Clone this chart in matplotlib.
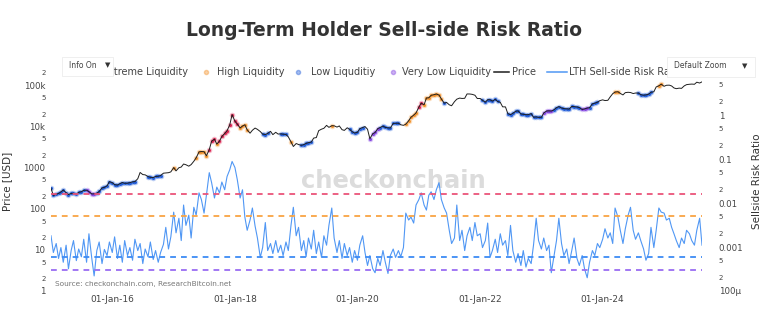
import numpy as np
import pandas as pd
import matplotlib
matplotlib.use("Agg")
import matplotlib.pyplot as plt
import matplotlib.dates as mdates
from matplotlib.ticker import FixedLocator, FixedFormatter, LogLocator, FuncFormatter
from matplotlib.lines import Line2D
from matplotlib.patches import Rectangle

# ---------------------------------------------------------------- data
# semi-monthly samples (1st and 15th), Jan 2015 .. Aug 2025
dates = pd.date_range("2015-01-01", "2025-08-15", freq="SMS")

price_2015 = [315, 210, 225, 235, 255, 285, 245, 220, 235, 237, 225, 250,
              258, 280, 282, 260, 228, 230, 237, 262, 320, 330, 360, 455]
price_2016 = [430, 385, 375, 405, 433, 415, 417, 430, 450, 455, 535, 760,
              675, 665, 605, 578, 573, 607, 615, 640, 730, 740, 750, 785]
price_2017 = [1000, 830, 990, 1030, 1220, 1170, 1080, 1180, 1420, 1730, 2400, 2450,
              2430, 1930, 2730, 4380, 4890, 3700, 4400, 5700, 6740, 7870, 10900, 19300]
price_2018 = [13400, 11400, 9170, 10200, 10950, 8260, 6840, 8060, 9120, 8480, 7500, 6500,
              6350, 6740, 7600, 6310, 7190, 6520, 6590, 6470, 6380, 5570, 4210, 3250]
price_2019 = [3840, 3630, 3470, 3620, 3860, 4030, 4150, 5200, 5360, 7880, 8570, 8990,
              10600, 9480, 10400, 10350, 9630, 10270, 8330, 8000, 9260, 8500, 7420, 6900]
price_2020 = [7200, 8820, 9390, 9920, 8550, 5010, 6640, 7120, 8850, 9380, 10200, 9450,
              9230, 9130, 11800, 11910, 11970, 10960, 10620, 11320, 13740, 16720, 18800, 21300]
price_2021 = [29400, 36800, 33500, 49100, 49600, 56900, 59000, 61300, 57800, 46400, 36700, 38300,
              33500, 31800, 39900, 45900, 48800, 47800, 48200, 61500, 61300, 60100, 57200, 47600]
price_2022 = [47700, 43100, 38700, 44600, 44400, 41100, 45500, 40400, 38500, 29900, 29800, 20400,
              19300, 20800, 23300, 23900, 20100, 19700, 19300, 19250, 20500, 16700, 17000, 16600]
price_2023 = [16600, 21200, 23700, 23900, 23600, 25000, 28500, 30300, 28100, 27000, 26800, 26300,
              30600, 30200, 29700, 28700, 25800, 26600, 27900, 28500, 35400, 36600, 38700, 42200]
price_2024 = [44200, 42500, 43100, 52100, 62400, 68400, 69700, 63400, 58200, 66200, 67500, 66600,
              62900, 64800, 64600, 59000, 57300, 58200, 60800, 67600, 69500, 91000, 97200, 106100]
price_2025 = [94400, 99900, 100600, 96100, 86000, 82600, 85200, 84000, 96500, 103500, 105700, 106800,
              105700, 118700, 113300, 121000]

ratio_2015 = [0.0018, 0.00075, 0.0012, 0.00055, 0.00097, 0.00045, 0.0011, 0.00032, 0.00083, 0.0014,
              0.00049, 0.0009, 0.0006, 0.0015, 0.00045, 0.002, 0.00055, 0.00022, 0.00083, 0.0013,
              0.00042, 0.00088, 0.00064, 0.0013]
ratio_2016 = [0.00075, 0.0017, 0.00055, 0.0011, 0.00045, 0.0014, 0.00064, 0.00097, 0.0005, 0.0015,
              0.00083, 0.0012, 0.00042, 0.0009, 0.0006, 0.0013, 0.00052, 0.00083, 0.00045, 0.00075,
              0.00115, 0.0028, 0.0009, 0.0017]
ratio_2017 = [0.0062, 0.0021, 0.0045, 0.0014, 0.009, 0.0031, 0.0053, 0.0016, 0.008, 0.0053,
              0.017, 0.012, 0.0059, 0.015, 0.049, 0.029, 0.013, 0.023, 0.017, 0.030,
              0.020, 0.040, 0.057, 0.088]
ratio_2018 = [0.064, 0.034, 0.013, 0.02, 0.0048, 0.0024, 0.0041, 0.0077, 0.003, 0.0016,
              0.00058, 0.00097, 0.0036, 0.00083, 0.0012, 0.00071, 0.0014, 0.00075, 0.0011, 0.00064,
              0.0013, 0.00083, 0.0031, 0.008]
ratio_2019 = [0.0018, 0.0028, 0.00083, 0.0014, 0.0006, 0.0016, 0.0009, 0.0024, 0.00071, 0.0013,
              0.00058, 0.0018, 0.0011, 0.0031, 0.0077, 0.0016, 0.00075, 0.0014, 0.00055, 0.0012,
              0.00064, 0.00097, 0.00045, 0.00083]
ratio_2020 = [0.0005, 0.0011, 0.0018, 0.00075, 0.00038, 0.00064, 0.00032, 0.00026, 0.00055, 0.00038,
              0.00083, 0.00045, 0.00025, 0.00064, 0.0009, 0.00058, 0.00083, 0.0006, 0.00097, 0.0059,
              0.0041, 0.0048, 0.0035, 0.009]
ratio_2021 = [0.012, 0.017, 0.009, 0.0069, 0.015, 0.018, 0.012, 0.02, 0.029, 0.012,
              0.0077, 0.0059, 0.0024, 0.0012, 0.0016, 0.009, 0.0014, 0.0024, 0.00083, 0.0018,
              0.0028, 0.0014, 0.0036, 0.0018]
ratio_2022 = [0.002, 0.00097, 0.0014, 0.0035, 0.00058, 0.00083, 0.0015, 0.00075, 0.002, 0.0011,
              0.0014, 0.00064, 0.0031, 0.00083, 0.00045, 0.00071, 0.00038, 0.00083, 0.00035, 0.00055,
              0.00042, 0.0011, 0.0045, 0.0014]
ratio_2023 = [0.0009, 0.0016, 0.00083, 0.0011, 0.00026, 0.00055, 0.0014, 0.0045, 0.0012, 0.00064,
              0.0009, 0.00042, 0.00083, 0.0016, 0.00055, 0.00038, 0.00064, 0.00032, 0.0002, 0.00045,
              0.00083, 0.00064, 0.0012, 0.00097]
ratio_2024 = [0.0015, 0.0026, 0.0016, 0.0021, 0.0012, 0.0077, 0.0048, 0.0024, 0.0012, 0.0026,
              0.0053, 0.008, 0.0024, 0.0015, 0.0021, 0.0014, 0.0009, 0.0005, 0.00071, 0.0028,
              0.00097, 0.0024, 0.0077, 0.0062]
ratio_2025 = [0.0059, 0.0041, 0.0045, 0.0028, 0.002, 0.0014, 0.00097, 0.0016, 0.0012, 0.0024,
              0.002, 0.0014, 0.0011, 0.0024, 0.0045, 0.0011]

# liquidity regime of each price sample, as run lengths
regime_runs = [
    ("low", 14), ("very_low", 4), ("low", 16), ("none", 4), ("low", 6), ("none", 4),
    ("high", 1), ("none", 8), ("high", 5), ("extreme", 3), ("high", 1), ("extreme", 8),
    ("high", 4), ("none", 5), ("low", 3), ("none", 4), ("low", 3), ("none", 1),
    ("high", 1), ("none", 3), ("low", 5), ("none", 7), ("high", 1), ("none", 6),
    ("low", 6), ("none", 2), ("very_low", 4), ("low", 8), ("none", 2), ("high", 5),
    ("extreme", 2), ("high", 8), ("low", 1), ("none", 14), ("low", 7), ("none", 3),
    ("low", 14), ("very_low", 4), ("low", 11), ("very_low", 3), ("low", 4), ("none", 6),
    ("high", 2), ("none", 7), ("low", 6), ("none", 2), ("high", 2), ("none", 16),
]

# thresholds of the sell-side risk ratio bands
threshold_names = ["extreme", "high", "low", "very_low"]
threshold_values = [0.016, 0.005, 0.0006, 0.0003]

legend_labels = ["Extreme Liquidity", "High Liquidity", "Low Liquditiy", "Very Low Liquidity"]

price = np.array(price_2015 + price_2016 + price_2017 + price_2018 + price_2019 + price_2020
                 + price_2021 + price_2022 + price_2023 + price_2024 + price_2025, dtype=float)
ratio = np.array(ratio_2015 + ratio_2016 + ratio_2017 + ratio_2018 + ratio_2019 + ratio_2020
                 + ratio_2021 + ratio_2022 + ratio_2023 + ratio_2024 + ratio_2025, dtype=float)
regime = np.repeat([r for r, _ in regime_runs], [n for _, n in regime_runs])

# ---------------------------------------------------------------- style
band_color = {"extreme": "#dc1f4e", "high": "#f39129", "low": "#1f5bd8", "very_low": "#8140e0"}
dash_color = {"extreme": "#ea5479", "high": "#f9a443", "low": "#3d8bf5", "very_low": "#9a6cf2"}
ratio_color = "#5097f4"
text_color = "#444444"

W, H = 768, 331
fig = plt.figure(figsize=(W / 100, H / 100), dpi=100)


def fx(px):
    return px / W


def fy(py):
    return 1 - py / H


left_px, right_px, top_px, bottom_px = 51, 702, 72, 291
ax = fig.add_axes([fx(left_px), fy(bottom_px), fx(right_px - left_px), (bottom_px - top_px) / H])
ax2 = ax.twinx()

# ---- price with liquidity-band markers
for name in ["low", "very_low", "high", "extreme"]:
    m = regime == name
    ax.scatter(dates[m], price[m], s=16, color=band_color[name], alpha=0.3,
               linewidths=0, zorder=1)
    ax.scatter(dates[m], price[m], s=5, color=band_color[name], alpha=0.95,
               linewidths=0, zorder=2)
price_line, = ax.plot(dates, price, color="#1e1e1e", lw=0.7, zorder=3)

ax.set_yscale("log")
ax.set_ylim(1, 2.1e5)
ax.set_xlim(dates[0], dates[-1])

price_major = [1, 10, 100, 1000, 1e4, 1e5]
price_major_labels = ["1", "10", "100", "1000", "10k", "100k"]
ax.yaxis.set_major_locator(FixedLocator(price_major))
ax.yaxis.set_major_formatter(FixedFormatter(price_major_labels))


def mantissa(v, pos):
    return f"{v / 10 ** np.floor(np.log10(v) + 1e-9):.0f}"


ax.yaxis.set_minor_locator(LogLocator(base=10, subs=(2.0, 5.0), numticks=30))
ax.yaxis.set_minor_formatter(FuncFormatter(mantissa))
ax.tick_params(axis="y", which="major", labelsize=6.2, length=0, pad=4, labelcolor=text_color)
ax.tick_params(axis="y", which="minor", labelsize=5, length=0, pad=4, labelcolor=text_color)

ax.xaxis.set_major_locator(mdates.YearLocator(2, month=1, day=1))
ax.xaxis.set_major_formatter(mdates.DateFormatter("%d-%b-%y"))
ax.xaxis.set_minor_locator(FixedLocator([]))
ax.tick_params(axis="x", labelsize=6.5, length=0, pad=3, labelcolor=text_color)

ax.set_ylabel("Price [USD]", fontsize=7.5, color="#333333")
ax.yaxis.set_label_coords(-0.06, 0.5)

# ---- sell-side risk ratio
ax2.set_yscale("log")
ax2.set_ylim(1e-4, 9.5)
ratio_line, = ax2.plot(dates, ratio, color=ratio_color, lw=0.8, zorder=2)
for name, val in zip(threshold_names, threshold_values):
    ax2.plot([dates[0], dates[-1]], [val, val], color=dash_color[name], lw=1.3,
             ls=(0, (3.2, 2.8)), zorder=3)

ratio_major = [1e-4, 1e-3, 1e-2, 1e-1, 1]
ratio_major_labels = ["100\u03bc", "0.001", "0.01", "0.1", "1"]
ax2.yaxis.set_major_locator(FixedLocator(ratio_major))
ax2.yaxis.set_major_formatter(FixedFormatter(ratio_major_labels))
ax2.yaxis.set_minor_locator(LogLocator(base=10, subs=(2.0, 5.0), numticks=30))
ax2.yaxis.set_minor_formatter(FuncFormatter(mantissa))
ax2.tick_params(axis="y", which="major", labelsize=6.2, length=0, pad=12, labelcolor=text_color)
ax2.tick_params(axis="y", which="minor", labelsize=5, length=0, pad=12, labelcolor=text_color)
ax2.set_ylabel("Sellside Risk Ratio", fontsize=7.5, color="#333333")
ax2.yaxis.set_label_coords(1.077, 0.5)

for a in (ax, ax2):
    for s in a.spines.values():
        s.set_visible(False)

# watermark behind the ratio line
ax2.text(fx(393), fy(181), "checkonchain", transform=fig.transFigure, ha="center", va="center",
         fontsize=17.5, fontweight="bold", color="#dcdcdc", zorder=0)

# ---- title and source
fig.text(0.5, fy(30), "Long-Term Holder Sell-side Risk Ratio", ha="center", va="center",
         fontsize=13.5, fontweight="bold", color="#333333")
fig.text(fx(55), fy(284), "Source: checkonchain.com, ResearchBitcoin.net", ha="left",
         va="center", fontsize=5.3, color="#777777")

# ---- legend row
leg_y = fy(72)
marker_items = [(90, 102), (206, 217), (298, 311), (393, 402)]
for name, label, (mx, tx) in zip(threshold_names, legend_labels, marker_items):
    fig.add_artist(Line2D([fx(mx)], [leg_y], marker="o", ms=3.0, lw=0,
                          color=band_color[name], alpha=0.4, transform=fig.transFigure, zorder=5))
    fig.text(fx(tx), leg_y, label, ha="left", va="center", fontsize=7, color=text_color, zorder=5)

line_items = [(price_line, "Price", 494, 509, 512), (ratio_line, "LTH Sell-side Risk Ratio", 547, 567, 569)]
for art, label, x0, x1, tx in line_items:
    fig.add_artist(Line2D([fx(x0), fx(x1)], [leg_y, leg_y], color=art.get_color(), lw=1.1,
                          transform=fig.transFigure, zorder=5))
    fig.text(fx(tx), leg_y, label, ha="left", va="center", fontsize=7, color=text_color, zorder=5)

# ---- dropdown buttons overlaying the legend
for (x0, x1, y0, y1), label, tx, ax_ in [((62, 113, 57, 76), "Info On", 69, 108),
                                         ((667, 755, 57, 77), "Default Zoom", 674, 745)]:
    fig.add_artist(Rectangle((fx(x0), fy(y1)), fx(x1 - x0), (y1 - y0) / H,
                             transform=fig.transFigure, facecolor="white",
                             edgecolor="#ececec", lw=0.6, zorder=10))
    fig.text(fx(tx), fy((y0 + y1) / 2 - 1), label, ha="left", va="center", fontsize=5.5,
             color="#444444", zorder=11)
    fig.text(fx(ax_), fy((y0 + y1) / 2 - 1), "\u25bc", ha="center", va="center", fontsize=5,
             color="#333333", zorder=11)

fig.savefig("out.png", dpi=100, facecolor="white")
